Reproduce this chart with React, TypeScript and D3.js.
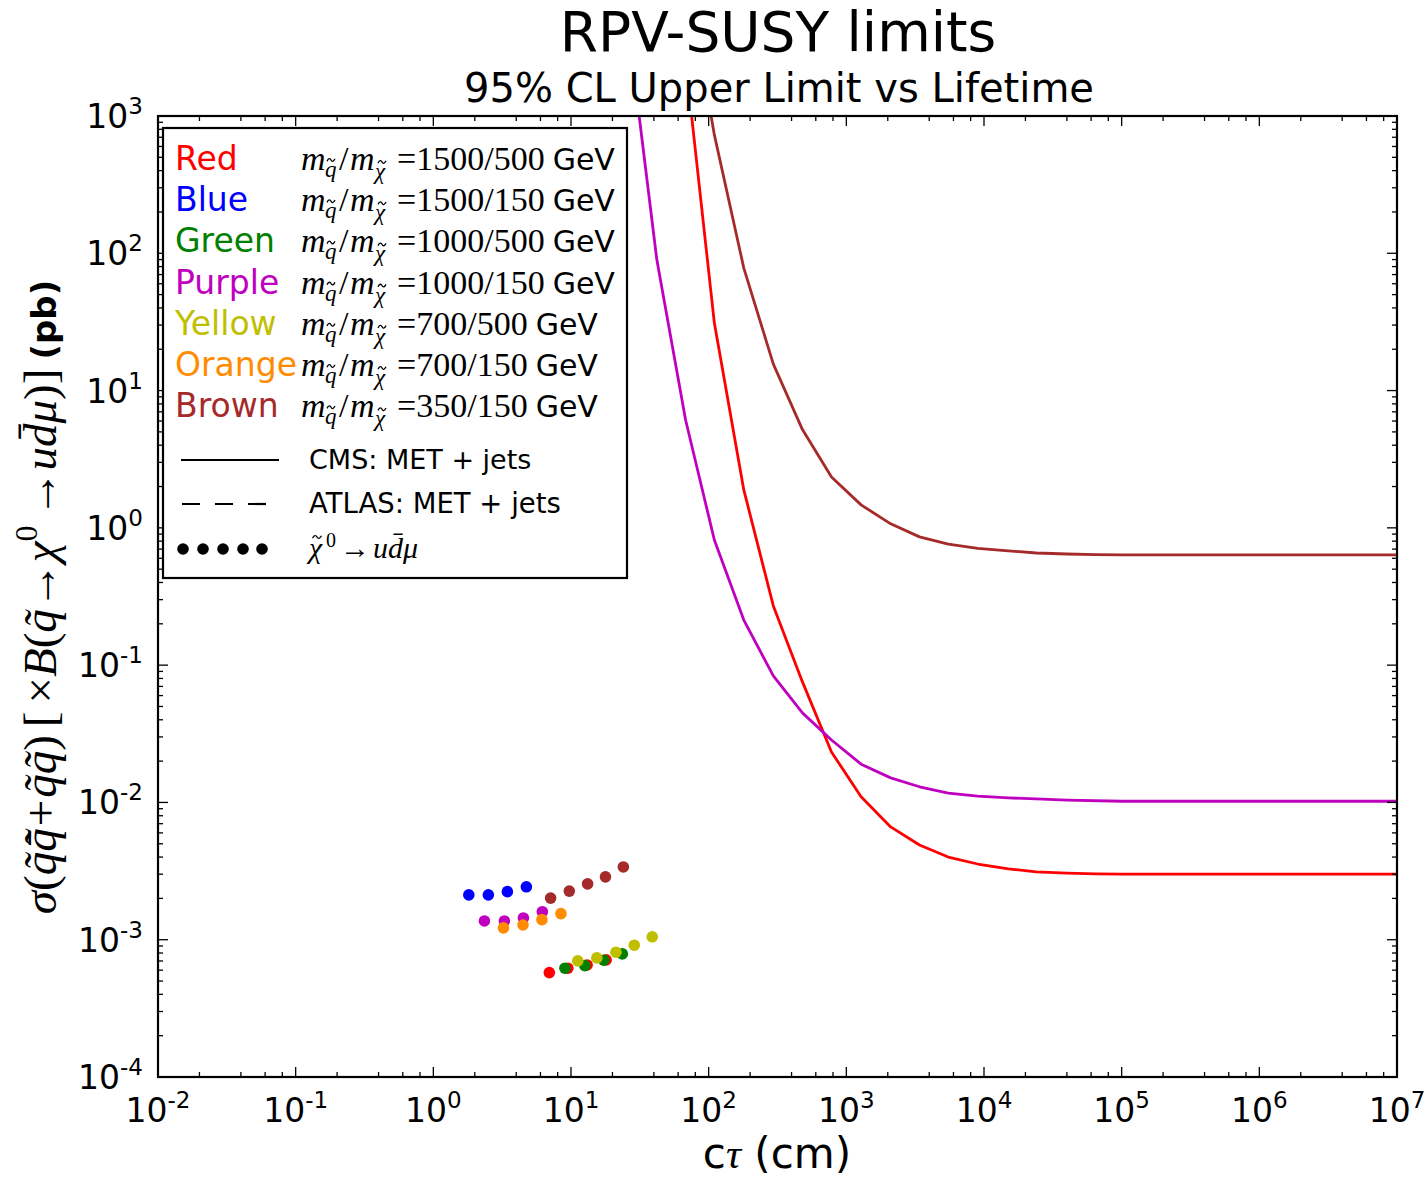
import React from "react";
import * as d3 from "d3";

// ---------- data ----------
const xTickExps = [-2, -1, 0, 1, 2, 3, 4, 5, 6, 7];
const yTickExps = [-4, -3, -2, -1, 0, 1, 2, 3];
const xMinorSubs = [2, 4, 6, 8];
const yMinorSubs = [2, 3, 4, 5, 6, 7, 8, 9];

// CMS: MET + jets limit curves (ctau in cm, sigma in pb)
const brownCt = [68, 110, 180, 295, 480, 780, 1280, 2100, 3400, 5500, 9000, 15000, 24000, 40000, 65000, 1e5, 1e7];
const brownSig = [12000, 728, 78, 15.6, 5.2, 2.35, 1.47, 1.07, 0.86, 0.76, 0.71, 0.68, 0.656, 0.645, 0.638, 0.635, 0.635];
const redCt = [68, 110, 180, 295, 480, 780, 1280, 2100, 3400, 5500, 9000, 15000, 24000, 40000, 65000, 1e5, 1e7];
const redSig = [2500, 31, 1.89, 0.27, 0.0755, 0.0233, 0.011, 0.00663, 0.0049, 0.004, 0.00356, 0.00328, 0.00312, 0.00306, 0.00302, 0.003, 0.003];
const purpleCt = [25, 42, 68, 110, 180, 295, 480, 780, 1280, 2100, 3400, 5500, 9000, 15000, 24000, 40000, 1e5, 1e7];
const purpleSig = [6200, 90, 6.1, 0.816, 0.213, 0.0834, 0.0449, 0.0285, 0.019, 0.0151, 0.013, 0.0117, 0.0111, 0.0108, 0.0106, 0.0104, 0.0102, 0.0102];

// neutralino -> u dbar mu points
const dotRedCt = [6.96, 9.49, 13.1, 18.0];
const dotRedSig = [0.000576, 0.00062, 0.000655, 0.000713];
const dotBlueCt = [1.81, 2.51, 3.45, 4.74];
const dotBlueSig = [0.00212, 0.00212, 0.00224, 0.00243];
const dotGreenCt = [9.03, 12.6, 17.3, 23.6];
const dotGreenSig = [0.00062, 0.000648, 0.000709, 0.000788];
const dotPurpleCt = [2.35, 3.28, 4.51, 6.19];
const dotPurpleSig = [0.00137, 0.00137, 0.00144, 0.0016];
const dotYellowCt = [11.2, 15.4, 21.2, 28.8, 38.9];
const dotYellowSig = [0.000701, 0.000737, 0.000811, 0.000912, 0.00105];
const dotOrangeCt = [3.23, 4.48, 6.15, 8.45];
const dotOrangeSig = [0.00122, 0.00128, 0.0014, 0.00155];
const dotBrownCt = [7.11, 9.72, 13.2, 17.8, 24.0];
const dotBrownSig = [0.00201, 0.00226, 0.00255, 0.00287, 0.00339];

const legendNames = ["Red", "Blue", "Green", "Purple", "Yellow", "Orange", "Brown"];
const legendMasses = ["1500/500", "1500/150", "1000/500", "1000/150", "700/500", "700/150", "350/150"];
const legendColors = ["#ff0000", "#0000ff", "#008000", "#bf00bf", "#bfbf00", "#ff8c00", "#a52a2a"];

// ---------- layout ----------
const W = 1424;
const H = 1179;
const L = 158, R = 1397, T = 116, B = 1077;
const SANS = "DejaVu Sans";
const SERIF = "Liberation Serif";

function Tilde({ cx, cy, w = 9 }: { cx: number; cy: number; w?: number }) {
  const h = w / 2;
  return (
    <path
      d={`M${cx - h},${cy + 1.2} C${cx - h * 0.6},${cy - 2.2} ${cx - h * 0.2},${cy - 1.8} ${cx},${cy} S${cx + h * 0.6},${cy + 2.2} ${cx + h},${cy - 1.2}`}
      fill="none"
      stroke="#000"
      strokeWidth={1.3}
    />
  );
}

export default function App() {
  const x = d3.scaleLog().domain([1e-2, 1e7]).range([L, R]);
  const y = d3.scaleLog().domain([1e-4, 1e3]).range([B, T]);
  const line = d3
    .line<[number, number]>()
    .x((d) => x(d[0]))
    .y((d) => y(d[1]));
  const zip = (a: number[], b: number[]) => a.map((v, i) => [v, b[i]] as [number, number]);

  const curves = [
    { ct: redCt, sig: redSig, color: legendColors[0] },
    { ct: purpleCt, sig: purpleSig, color: legendColors[3] },
    { ct: brownCt, sig: brownSig, color: legendColors[6] },
  ];
  const dots = [
    { ct: dotRedCt, sig: dotRedSig, color: legendColors[0] },
    { ct: dotBlueCt, sig: dotBlueSig, color: legendColors[1] },
    { ct: dotGreenCt, sig: dotGreenSig, color: legendColors[2] },
    { ct: dotPurpleCt, sig: dotPurpleSig, color: legendColors[3] },
    { ct: dotYellowCt, sig: dotYellowSig, color: legendColors[4] },
    { ct: dotOrangeCt, sig: dotOrangeSig, color: legendColors[5] },
    { ct: dotBrownCt, sig: dotBrownSig, color: legendColors[6] },
  ];

  const MAJ = 10, MIN = 5;
  const ticks: JSX.Element[] = [];
  xTickExps.forEach((e, i) => {
    const v = Math.pow(10, e);
    const px = x(v);
    ticks.push(<line key={`xb${e}`} x1={px} x2={px} y1={B} y2={B - MAJ} />);
    ticks.push(<line key={`xt${e}`} x1={px} x2={px} y1={T} y2={T + MAJ} />);
    if (i < xTickExps.length - 1)
      xMinorSubs.forEach((s) => {
        const pm = x(v * s);
        ticks.push(<line key={`xbm${e}_${s}`} x1={pm} x2={pm} y1={B} y2={B - MIN} />);
        ticks.push(<line key={`xtm${e}_${s}`} x1={pm} x2={pm} y1={T} y2={T + MIN} />);
      });
  });
  yTickExps.forEach((e, i) => {
    const v = Math.pow(10, e);
    const py = y(v);
    ticks.push(<line key={`yl${e}`} y1={py} y2={py} x1={L} x2={L + MAJ} />);
    ticks.push(<line key={`yr${e}`} y1={py} y2={py} x1={R} x2={R - MAJ} />);
    if (i < yTickExps.length - 1)
      yMinorSubs.forEach((s) => {
        const pm = y(v * s);
        ticks.push(<line key={`ylm${e}_${s}`} y1={pm} y2={pm} x1={L} x2={L + MIN} />);
        ticks.push(<line key={`yrm${e}_${s}`} y1={pm} y2={pm} x1={R} x2={R - MIN} />);
      });
  });

  const TF = 33, SF = 23;
  const rowY = (i: number) => 170 + i * 41.2;
  const MF = 34;

  return (
    <svg width={W} height={H} style={{ position: "absolute", left: 0, top: 0, background: "#fff" }}>
      <rect x={0} y={0} width={W} height={H} fill="#fff" />
      <defs>
        <clipPath id="plotclip">
          <rect x={L} y={T} width={R - L} height={B - T} />
        </clipPath>
      </defs>

      {/* titles */}
      <text x={778} y={51} textAnchor="middle" fontFamily={SANS} fontSize={55}>RPV-SUSY limits</text>
      <text x={779} y={102} textAnchor="middle" fontFamily={SANS} fontSize={40}>95% CL Upper Limit vs Lifetime</text>

      {/* curves */}
      <g clipPath="url(#plotclip)" fill="none" strokeWidth={2.8} strokeLinejoin="round">
        {curves.map((c, i) => (
          <path key={i} d={line(zip(c.ct, c.sig)) || ""} stroke={c.color} />
        ))}
      </g>
      {/* dots */}
      <g>
        {dots.map((g, i) =>
          g.ct.map((v, j) => <circle key={`${i}_${j}`} cx={x(v)} cy={y(g.sig[j])} r={5.8} fill={g.color} />)
        )}
      </g>

      {/* frame & ticks */}
      <g stroke="#000" strokeWidth={1.3}>{ticks}</g>
      <rect x={L} y={T} width={R - L} height={B - T} fill="none" stroke="#000" strokeWidth={2.2} />

      {/* tick labels */}
      <g fontFamily={SANS} fontSize={TF}>
        {xTickExps.map((e) => (
          <text key={`xl${e}`} x={x(Math.pow(10, e))} y={1122} textAnchor="middle">
            10<tspan dy={-14} fontSize={SF}>{String(e)}</tspan>
          </text>
        ))}
        {yTickExps.map((e) => (
          <text key={`yl${e}`} x={143} y={y(Math.pow(10, e)) + 12} textAnchor="end">
            10<tspan dy={-14} fontSize={SF}>{String(e)}</tspan>
          </text>
        ))}
      </g>

      {/* x label */}
      <text x={777} y={1168} textAnchor="middle" fontFamily={SANS} fontSize={42}>
        c<tspan fontFamily={SERIF} fontStyle="italic">τ</tspan> (cm)
      </text>

      {/* y label */}
      <text transform={`translate(56,597) rotate(-90)`} textAnchor="middle" fontFamily={SERIF} fontSize={47}>
        <tspan fontStyle="italic">σ</tspan>
        <tspan>(</tspan>
        <tspan fontStyle="italic">{"q\u0303q\u0303\u0304"}</tspan>
        <tspan dx={2}>+</tspan>
        <tspan dx={2} fontStyle="italic">{"q\u0303q\u0303"}</tspan>
        <tspan>)</tspan>
        <tspan dx={8}>[</tspan>
        <tspan dx={8}>×</tspan>
        <tspan fontStyle="italic">B</tspan>
        <tspan>(</tspan>
        <tspan fontStyle="italic">{"q\u0303"}</tspan>
        <tspan>→</tspan>
        <tspan fontStyle="italic">χ</tspan>
        <tspan dy={-19} fontSize={32}>0</tspan>
        <tspan dy={19} dx={8}>→</tspan>
        <tspan fontStyle="italic">{"ud\u0304μ"}</tspan>
        <tspan>)</tspan>
        <tspan>]</tspan>
        <tspan fontFamily={SANS} fontWeight="bold" fontSize={34} dx={9}>(pb)</tspan>
      </text>

      {/* legend */}
      <rect x={163} y={128} width={464} height={450} fill="#fff" stroke="#000" strokeWidth={2.2} />
      {legendNames.map((n, i) => {
        const by = rowY(i);
        return (
          <g key={n}>
            <text x={175} y={by} fontFamily={SANS} fontSize={33} fill={legendColors[i]}>{n}</text>
            <g fontFamily={SERIF} fontSize={MF}>
              <text x={301} y={by} fontStyle="italic">m</text>
              <text x={325} y={by + 7} fontStyle="italic" fontSize={23}>q</text>
              <Tilde cx={331} cy={by - 10} w={8} />
              <text x={339} y={by}>/</text>
              <text x={350} y={by} fontStyle="italic">m</text>
              <text x={375} y={by + 9} fontStyle="italic" fontSize={23}>χ</text>
              <Tilde cx={382} cy={by - 8} w={8} />
              <text x={397} y={by}>
                ={legendMasses[i]}
                <tspan fontFamily={SANS} fontSize={30} dx={8}>GeV</tspan>
              </text>
            </g>
          </g>
        );
      })}
      <line x1={181} x2={279} y1={460} y2={460} stroke="#000" strokeWidth={2.2} />
      <text x={309} y={469} fontFamily={SANS} fontSize={27}>CMS: MET + jets</text>
      <line x1={182} x2={270} y1={504} y2={504} stroke="#000" strokeWidth={2.2} strokeDasharray="18,15" />
      <text x={309} y={513} fontFamily={SANS} fontSize={27.5}>ATLAS: MET + jets</text>
      {[183, 203, 223, 243, 262].map((cx) => (
        <circle key={cx} cx={cx} cy={549} r={5.8} fill="#000" />
      ))}
      <g fontFamily={SERIF} fontSize={30}>
        <text x={309} y={558} fontStyle="italic">χ</text>
        <Tilde cx={317} cy={537} w={9} />
        <text x={326} y={547} fontSize={20}>0</text>
        <text x={340} y={558}>→</text>
        <text x={373} y={558} fontStyle="italic">{"ud\u0304μ"}</text>
      </g>
    </svg>
  );
}
